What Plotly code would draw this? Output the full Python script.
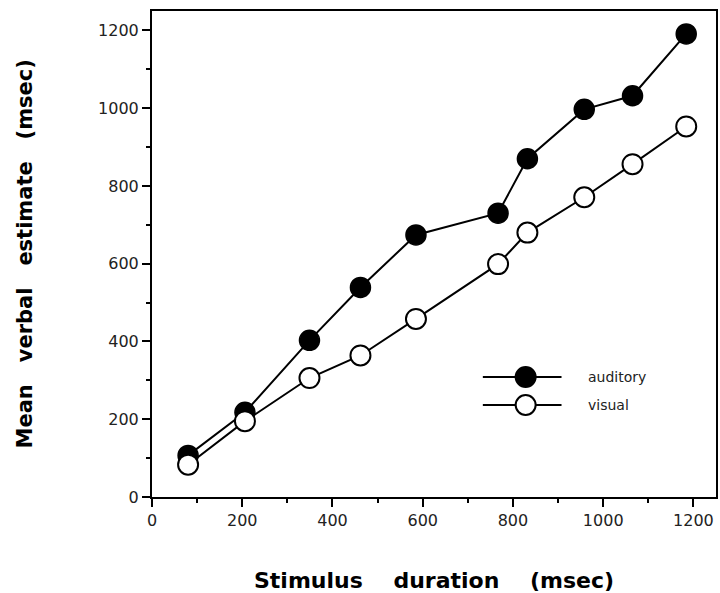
import plotly.graph_objects as go

# ---- data ----
series_names = ["auditory", "visual"]
durations = [80, 206, 349, 462, 585, 767, 832, 958, 1065, 1184]
auditory = [107, 218, 403, 539, 674, 730, 870, 997, 1032, 1191]
visual = [83, 195, 306, 364, 458, 599, 680, 771, 856, 953]
major_ticks = [0, 200, 400, 600, 800, 1000, 1200]

FONT = "DejaVu Sans"
NB = "\u00a0"

fig = go.Figure()
fig.add_trace(go.Scatter(
    x=durations, y=auditory, name=series_names[0], mode="lines+markers",
    line=dict(color="black", width=2),
    marker=dict(size=20, color="black", line=dict(color="black", width=1.5)),
))
fig.add_trace(go.Scatter(
    x=durations, y=visual, name=series_names[1], mode="lines+markers",
    line=dict(color="black", width=2),
    marker=dict(size=20, color="white", line=dict(color="black", width=2)),
))

axis_common = dict(
    range=[0, 1250], tickvals=major_ticks, ticks="outside", ticklen=8, tickwidth=2,
    tickcolor="black", showline=True, linecolor="black", linewidth=2, mirror=True,
    showgrid=False, zeroline=False,
    tickfont=dict(family=FONT, size=16, color="#222"),
    minor=dict(dtick=100, ticks="outside", ticklen=4, tickwidth=1.5, tickcolor="black", showgrid=False),
)
fig.update_xaxes(**axis_common)
fig.update_yaxes(**axis_common)

# ---- custom legend ----
shapes = []
annotations = []
leg_rows = [(0.2469, "black"), (0.1893, "white")]
for (ypos, fill), name in zip(leg_rows, series_names):
    shapes.append(dict(type="line", xref="paper", yref="paper", x0=0.5866, x1=0.7261,
                       y0=ypos, y1=ypos, line=dict(color="black", width=2)))
    shapes.append(dict(type="circle", xref="paper", yref="paper",
                       xsizemode="pixel", ysizemode="pixel",
                       xanchor=0.6625, yanchor=ypos, x0=-10, x1=10, y0=-10, y1=10,
                       fillcolor=fill, line=dict(color="black", width=2)))
    annotations.append(dict(text=name, xref="paper", yref="paper", x=0.7703, y=ypos,
                            xanchor="left", yanchor="middle", showarrow=False,
                            font=dict(family=FONT, size=14, color="#222")))

annotations.append(dict(text=f"Stimulus{NB*4}duration{NB*4}(msec)", xref="paper", yref="paper",
                        x=0.5, y=-0.171, xanchor="center", yanchor="middle", showarrow=False,
                        font=dict(family=FONT, size=22, color="black", weight="bold")))
annotations.append(dict(text=f"Mean{NB*3}verbal{NB*3}estimate{NB*3}(msec)", xref="paper", yref="paper",
                        x=-0.2244, y=0.5, xanchor="center", yanchor="middle", showarrow=False,
                        textangle=-90,
                        font=dict(family=FONT, size=21, color="black", weight="bold")))

fig.update_layout(
    width=720, height=593,
    margin=dict(l=152, r=2, t=11, b=96),
    paper_bgcolor="white", plot_bgcolor="white",
    showlegend=False,
    shapes=shapes, annotations=annotations,
)

fig.write_html("out.html")
